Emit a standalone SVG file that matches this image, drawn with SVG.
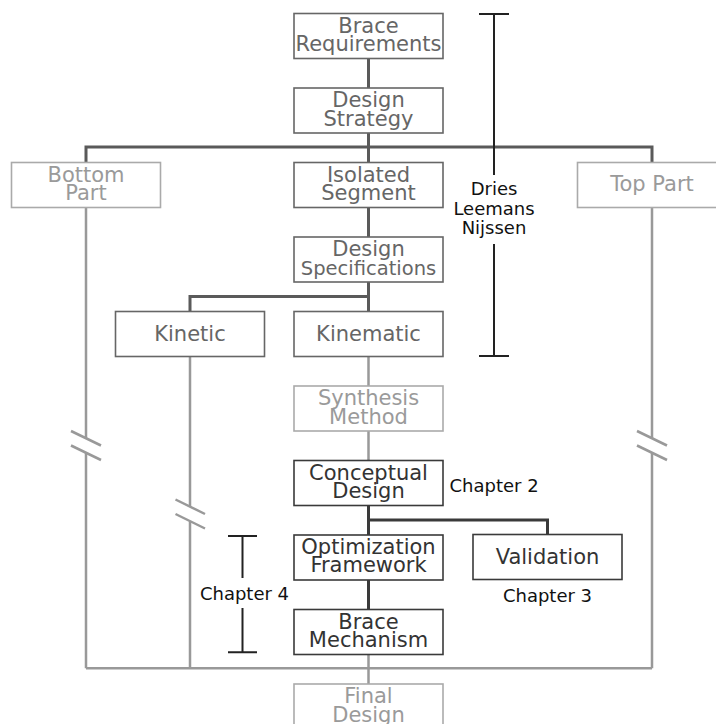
<svg xmlns="http://www.w3.org/2000/svg" width="716" height="724" viewBox="0 0 716 724">
<style>
text{font-family:"DejaVu Sans",Verdana,sans-serif}
.nt{font-size:21px;text-anchor:middle}
.lb{font-size:18px;fill:#111}
.mid rect{fill:#fff;stroke:#666;stroke-width:1.6}
.mid text{fill:#666}
.lt rect{fill:#fff;stroke:#aaa;stroke-width:1.6}
.lt text{fill:#9a9a9a}
.dk rect{fill:#fff;stroke:#3a3a3a;stroke-width:1.6}
.dk text{fill:#333}
.c1{stroke:#5a5a5a;stroke-width:3;fill:none}
.c2{stroke:#3a3a3a;stroke-width:3;fill:none}
.c3{stroke:#999;stroke-width:2.5;fill:none}
.br{stroke:#999;stroke-width:2.5}
.bk{stroke:#222;stroke-width:2;fill:none}
</style>
<rect width="716" height="724" fill="#fff"/>
<g id="connectors">
<path class="c3" d="M86 207V438M86 452.5V668.3M652 207V438M652 452.5V668.3M190 356V506.7M190 521.5V668.3M86 668.3H652M368.5 356V386M368.5 431V460.5M368.5 654.5V684"/>
<path class="c1" d="M368.5 58V88M368.5 133V162.5M86 162.5V147H652V162.5M368.5 207.5V237M368.5 282V311.5M368.5 296.5H190V311.5"/>
<path class="c2" d="M368.5 505.5V535M368.5 580V609.5M368.5 520H547.5V534.5"/>
<line class="br" x1="71" y1="431" x2="101" y2="445.5"/>
<line class="br" x1="71" y1="445.5" x2="101" y2="460"/>
<line class="br" x1="637" y1="431" x2="667" y2="445.5"/>
<line class="br" x1="637" y1="445.5" x2="667" y2="460"/>
<line class="br" x1="175.5" y1="499.5" x2="205" y2="514"/>
<line class="br" x1="175.5" y1="514" x2="205" y2="528.5"/>
</g>
<g id="bracket-dries">
<path class="bk" d="M479 14H509M494 14V175M494 244V356M479 356H509"/>
<text class="lb" x="494" y="195" text-anchor="middle">Dries</text>
<text class="lb" x="494" y="215" text-anchor="middle">Leemans</text>
<text class="lb" x="494" y="234" text-anchor="middle">Nijssen</text>
</g>
<g id="bracket-ch4">
<path class="bk" d="M228 536H257M242.5 536V578M242.5 608V652.3M228 652.3H257"/>
<text class="lb" x="244.5" y="599.5" text-anchor="middle">Chapter 4</text>
</g>
<g id="brace-requirements" class="mid"><rect x="294" y="13.5" width="149" height="45"/><text class="nt" x="368.5" y="32.5">Brace</text><text class="nt" x="368.5" y="51">Requirements</text></g>
<g id="design-strategy" class="mid"><rect x="294" y="88" width="149" height="45"/><text class="nt" x="368.5" y="107">Design</text><text class="nt" x="368.5" y="125.5">Strategy</text></g>
<g id="bottom-part" class="lt"><rect x="11.5" y="162.5" width="149" height="45"/><text class="nt" x="86" y="181.5">Bottom</text><text class="nt" x="86" y="200">Part</text></g>
<g id="isolated-segment" class="mid"><rect x="294" y="162.5" width="149" height="45"/><text class="nt" x="368.5" y="181.5">Isolated</text><text class="nt" x="368.5" y="200">Segment</text></g>
<g id="top-part" class="lt"><rect x="577.5" y="162.5" width="149" height="45"/><text class="nt" x="652" y="191">Top Part</text></g>
<g id="design-specifications" class="mid"><rect x="294" y="237" width="149" height="45"/><text class="nt" x="368.5" y="256">Design</text><text class="nt" x="368.5" y="274.5" style="font-size:19.5px">Specifications</text></g>
<g id="kinetic" class="mid"><rect x="115.5" y="311.5" width="149" height="45"/><text class="nt" x="190" y="340.5">Kinetic</text></g>
<g id="kinematic" class="mid"><rect x="294" y="311.5" width="149" height="45"/><text class="nt" x="368.5" y="340.5">Kinematic</text></g>
<g id="synthesis-method" class="lt"><rect x="294" y="386" width="149" height="45"/><text class="nt" x="368.5" y="405">Synthesis</text><text class="nt" x="368.5" y="423.5">Method</text></g>
<g id="conceptual-design" class="dk"><rect x="294" y="460.5" width="149" height="45"/><text class="nt" x="368.5" y="479.5">Conceptual</text><text class="nt" x="368.5" y="498">Design</text></g>
<text class="lb" x="449.5" y="491.5">Chapter 2</text>
<g id="optimization-framework" class="dk"><rect x="294" y="535" width="149" height="45"/><text class="nt" x="368.5" y="553.5">Optimization</text><text class="nt" x="368.5" y="572">Framework</text></g>
<g id="validation" class="dk"><rect x="473" y="534.5" width="149" height="45"/><text class="nt" x="547.5" y="564">Validation</text></g>
<text class="lb" x="547.5" y="601.5" text-anchor="middle">Chapter 3</text>
<g id="brace-mechanism" class="dk"><rect x="294" y="609.5" width="149" height="45"/><text class="nt" x="368.5" y="628.5">Brace</text><text class="nt" x="368.5" y="647">Mechanism</text></g>
<g id="final-design" class="lt"><rect x="294" y="684" width="149" height="45"/><text class="nt" x="368.5" y="703">Final</text><text class="nt" x="368.5" y="721.5">Design</text></g>
</svg>
